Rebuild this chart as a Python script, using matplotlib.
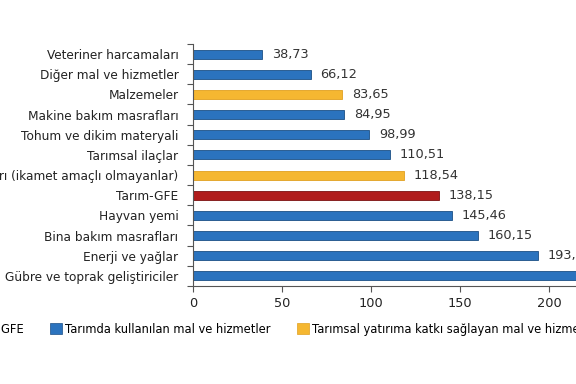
import matplotlib.pyplot as plt
from matplotlib.patches import Patch

plt.rcParams["font.family"] = ["DejaVu Sans"]

categories = [
    "Veteriner harcamaları",
    "Diğer mal ve hizmetler",
    "Malzemeler",
    "Makine bakım masrafları",
    "Tohum ve dikim materyali",
    "Tarımsal ilaçlar",
    "Binaları (ikamet amaçlı olmayanlar)",
    "Tarım-GFE",
    "Hayvan yemi",
    "Bina bakım masrafları",
    "Enerji ve yağlar",
    "Gübre ve toprak geliştiriciler",
]
values = [38.73, 66.12, 83.65, 84.95, 98.99, 110.51, 118.54, 138.15, 145.46, 160.15, 193.62, 227.36]
groups = ["mal", "mal", "yatirim", "mal", "mal", "mal", "yatirim", "gfe", "mal", "mal", "mal", "mal"]

colors = {"gfe": "#B01C1C", "mal": "#2B73BE", "yatirim": "#F5B731"}
edges = {"gfe": "#7A1010", "mal": "#1B4F85", "yatirim": "#E0A020"}
legend_labels = {
    "gfe": "Tarım-GFE",
    "mal": "Tarımda kullanılan mal ve hizmetler",
    "yatirim": "Tarımsal yatırıma katkı sağlayan mal ve hizmetler",
}

fig = plt.figure(figsize=(5.76, 3.84), dpi=100)
ax = fig.add_axes([193 / 576, 1 - 286 / 384, 445 / 576, 242 / 384])

y = list(range(len(categories)))
ax.barh(y, values, height=0.45,
        color=[colors[g] for g in groups],
        edgecolor=[edges[g] for g in groups], linewidth=0.6)

for yi, v in zip(y, values):
    ax.text(v + 5.5, yi, f"{v:.2f}".replace(".", ","), va="center", ha="left",
            fontsize=9.3, color="#333333")

ax.set_ylim(len(categories) - 0.5, -0.5)
ax.set_xlim(0, 250)
ax.set_yticks([i - 0.5 for i in range(len(categories) + 1)])
ax.set_yticklabels([])
ax.set_yticks(y, minor=True)
ax.set_yticklabels(categories, minor=True, fontsize=8.7, color="#222222")
ax.tick_params(axis="y", which="minor", length=0, pad=10.5)
ax.tick_params(axis="y", which="major", length=4, color="#555555")
ax.set_xticks([0, 50, 100, 150, 200, 250])
ax.tick_params(axis="x", length=4, color="#555555", labelsize=9.3, labelcolor="#222222", pad=4)

for side in ["top", "right"]:
    ax.spines[side].set_visible(False)
for side in ["left", "bottom"]:
    ax.spines[side].set_color("#555555")
    ax.spines[side].set_linewidth(0.8)

handles = [Patch(facecolor=colors[k], edgecolor=edges[k], linewidth=0.5, label=legend_labels[k])
           for k in ["gfe", "mal", "yatirim"]]
fig.legend(handles=handles, loc="center left", bbox_to_anchor=(-0.105, 0.143), ncol=3,
           frameon=False, fontsize=8.3, handlelength=1.0, handleheight=1.0,
           handletextpad=0.3, columnspacing=2.3)

fig.savefig("out.png", dpi=100)
